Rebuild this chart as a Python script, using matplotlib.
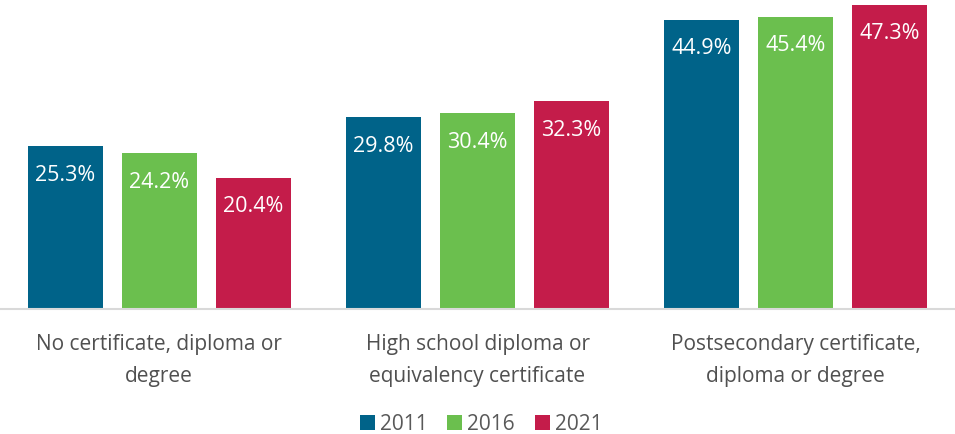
import matplotlib
matplotlib.use("Agg")
import matplotlib.pyplot as plt
import numpy as np

categories = ["No certificate, diploma or\ndegree",
              "High school diploma or\nequivalency certificate",
              "Postsecondary certificate,\ndiploma or degree"]
years = ["2011", "2016", "2021"]
values = {
    "2011": [25.3, 29.8, 44.9],
    "2016": [24.2, 30.4, 45.4],
    "2021": [20.4, 32.3, 47.3],
}
colors = ["#006389", "#6BBF4E", "#C41C4A"]

plt.rcParams['font.family'] = ['Open Sans', 'DejaVu Sans']

fig = plt.figure(figsize=(9.55, 4.34), dpi=100)
ax = fig.add_axes([0, (434 - 309) / 434, 1, 309 / 434])

x = np.arange(len(categories))
width = 0.2355
step = 0.295
for i, (yr, c) in enumerate(zip(years, colors)):
    pos = x + (i - 1) * step
    bars = ax.bar(pos, values[yr], width=width, color=c, label=yr, zorder=2)
    for b, v in zip(bars, values[yr]):
        ax.annotate(f"{v:.1f}%", (b.get_x() + b.get_width() / 2, v),
                    xytext=(0, -29), textcoords="offset pixels",
                    ha="center", va="center", color="white", fontsize=15.5)

ax.set_xlim(-0.5, 2.5)
ax.set_ylim(0, 48)
ax.set_yticks([])
ax.set_xticks(x)
ax.set_xticklabels(categories, fontsize=15, color="#505050", linespacing=1.7)
ax.tick_params(axis="x", length=0, pad=18)
for s in ["top", "left", "right"]:
    ax.spines[s].set_visible(False)
ax.spines["bottom"].set_color("#D9D9D9")
ax.spines["bottom"].set_linewidth(1.5)

handles, labels = ax.get_legend_handles_labels()
fig.legend(handles, labels, loc="center", bbox_to_anchor=(481 / 955, 1 - 424 / 434),
           ncol=3, frameon=False, fontsize=15, handlelength=0.72, handleheight=0.72,
           columnspacing=0.96, handletextpad=0.24, labelcolor="#595959",
           borderpad=0, borderaxespad=0)

fig.savefig("out.png", dpi=100)
